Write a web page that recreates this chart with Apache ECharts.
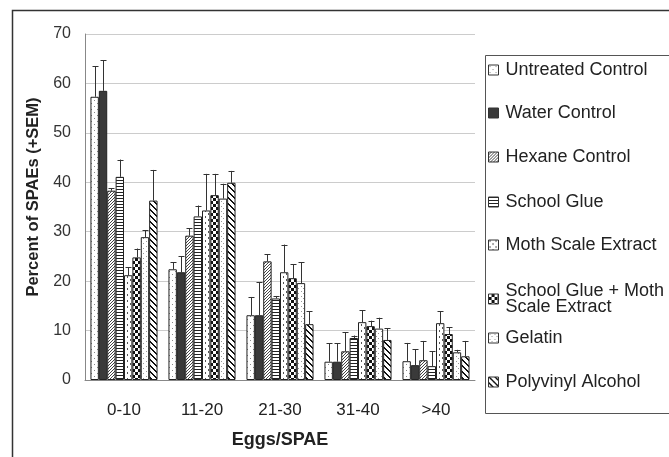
<!DOCTYPE html>
<html><head><meta charset="utf-8">
<script src="https://cdn.jsdelivr.net/npm/echarts@6/dist/echarts.min.js"></script>
<style>html,body{margin:0;padding:0;background:#fff}#c{width:669px;height:457px}</style>
</head><body><div id="c"></div>
<script>
const categories = ['0-10', '11-20', '21-30', '31-40', '>40'];
const seriesNames = ['Untreated Control', 'Water Control', 'Hexane Control', 'School Glue', 'Moth Scale Extract', 'School Glue + Moth Scale Extract', 'Gelatin', 'Polyvinyl Alcohol'];
const untreated = [57.3, 22.4, 13.1, 3.7, 3.8];
const water = [58.5, 21.8, 13.1, 3.7, 3.0];
const hexane = [38.3, 29.2, 24.0, 5.8, 4.0];
const schoolGlue = [41.1, 33.1, 16.5, 8.5, 2.8];
const mothScale = [21.2, 34.3, 21.8, 11.7, 11.5];
const glueMoth = [24.8, 37.4, 20.6, 10.9, 9.3];
const gelatin = [28.9, 36.7, 19.6, 10.4, 5.6];
const pva = [36.3, 39.9, 11.3, 8.1, 4.8];
const untreatedSem = [6.2, 1.4, 3.7, 3.7, 3.7];
const waterSem = [6.2, 3.2, 6.7, 3.7, 3.2];
const hexaneSem = [0.5, 1.5, 1.4, 3.9, 3.9];
const schoolGlueSem = [3.5, 2.2, 0.5, 0.5, 3.0];
const mothScaleSem = [1.6, 7.4, 5.6, 2.4, 2.4];
const glueMothSem = [1.8, 4.3, 2.8, 1.1, 1.4];
const gelatinSem = [1.4, 3.0, 4.2, 2.2, 0.5];
const pvaSem = [6.2, 2.4, 2.6, 2.4, 3.1];
const yTicks = [0, 10, 20, 30, 40, 50, 60, 70];

const values = [untreated, water, hexane, schoolGlue, mothScale, glueMoth, gelatin, pva];
const sems = [untreatedSem, waterSem, hexaneSem, schoolGlueSem, mothScaleSem, glueMothSem, gelatinSem, pvaSem];

function pat(w, h, bg, draw) {
  const c = document.createElement('canvas'); c.width = w; c.height = h;
  const g = c.getContext('2d'); g.fillStyle = bg; g.fillRect(0, 0, w, h);
  draw(g); return { image: c, repeat: 'repeat' };
}
const patterns = [
  pat(6, 6, '#fff', g => { g.fillStyle = '#888'; g.fillRect(1, 1, 1, 1); g.fillRect(4, 4, 1, 1); }),
  '#3a3a3a',
  pat(3, 3, '#fff', g => { g.fillStyle = '#444'; for (let i = 0; i < 3; i++) g.fillRect(i, 2 - i, 1, 1); }),
  pat(4, 3, '#fff', g => { g.fillStyle = '#222'; g.fillRect(0, 0, 4, 1); }),
  pat(6, 6, '#fff', g => { g.fillStyle = '#555'; g.fillRect(1, 0, 1, 2); g.fillRect(4, 3, 1, 2); }),
  pat(6, 6, '#111', g => { g.fillStyle = '#fff'; g.fillRect(0, 0, 3, 3); g.fillRect(3, 3, 3, 3); }),
  pat(5, 5, '#fff', g => { g.fillStyle = '#999'; g.fillRect(1, 1, 1, 1); g.fillRect(3, 3, 1, 1); }),
  pat(6, 6, '#fff', g => { g.fillStyle = '#111'; for (let i = 0; i < 6; i++) { g.fillRect(i, i, 2, 1); g.fillRect((i + 1) % 6, i, 1, 1); } })
];

const FONT = "'Liberation Sans', Arial, Helvetica, sans-serif";
const GAP = 0.14;

const series = seriesNames.map((n, i) => ({
  name: n, type: 'bar', data: values[i], barGap: '0%', barCategoryGap: (GAP * 100) + '%',
  itemStyle: { color: patterns[i], borderColor: '#222', borderWidth: 1 }, z: 2
}));

const errData = [];
sems.forEach((s, si) => s.forEach((e, ci) => errData.push([ci, values[si][ci], e, si])));
series.push({
  type: 'custom', name: 'err', data: errData, z: 5, silent: true,
  renderItem: function (params, api) {
    const ci = api.value(0), v = api.value(1), e = api.value(2), si = api.value(3);
    const base = api.coord([ci, v]);
    const top = api.coord([ci, v + e]);
    const band = api.size([1, 0])[0];
    const gw = band * (1 - GAP);
    const bw = gw / seriesNames.length;
    const x = Math.round(base[0] - gw / 2 + bw * (si + 0.5)) + 0.5;
    const st = { stroke: '#333', lineWidth: 1 };
    return { type: 'group', children: [
      { type: 'line', shape: { x1: x, y1: base[1], x2: x, y2: top[1] }, style: st },
      { type: 'line', shape: { x1: x - 3, y1: Math.round(top[1]) + 0.5, x2: x + 3, y2: Math.round(top[1]) + 0.5 }, style: st }
    ] };
  }
});

const legendTops = [61, 104, 148, 193, 236, 282, 329, 373];
const legends = seriesNames.map((n, i) => ({
  data: [{ name: n, icon: 'rect' }], left: 488, top: legendTops[i], orient: 'vertical', itemWidth: 10, itemHeight: 10, itemGap: 0,
  padding: 0, selectedMode: false,
  formatter: i === 5 ? () => 'School Glue + Moth\nScale Extract' : undefined,
  textStyle: { fontFamily: FONT, fontSize: 18, color: '#222', lineHeight: i === 5 ? 16 : 18, padding: [0, 0, 0, 2] },
  itemStyle: { borderColor: '#333', borderWidth: 1 }
}));

const chart = echarts.init(document.getElementById('c'), null, { renderer: 'canvas' });
chart.setOption({
  animation: false,
  backgroundColor: '#fff',
  graphic: [
    { type: 'rect', shape: { x: 12.5, y: 10.5, width: 700, height: 500 }, style: { fill: null, stroke: '#333', lineWidth: 1.5 }, z: 0 },
    { type: 'rect', shape: { x: 485.5, y: 55.5, width: 250, height: 358 }, style: { fill: null, stroke: '#555', lineWidth: 1 }, z: 0 }
  ],
  grid: { left: 85, right: 194, top: 34, bottom: 77, containLabel: false },
  legend: legends,
  xAxis: {
    type: 'category', data: categories,
    axisLine: { lineStyle: { color: '#888' } }, axisTick: { show: false },
    axisLabel: { fontFamily: FONT, fontSize: 17, color: '#222', margin: 22 },
    name: 'Eggs/SPAE', nameLocation: 'middle', nameGap: 51,
    nameTextStyle: { fontFamily: FONT, fontSize: 18, fontWeight: 'bold', color: '#222' }
  },
  yAxis: {
    type: 'value', min: 0, max: 70, interval: 10,
    axisLine: { show: true, lineStyle: { color: '#888' } }, axisTick: { show: false },
    axisLabel: { fontFamily: FONT, fontSize: 16, color: '#333', margin: 14, formatter: v => yTicks.includes(v) ? String(v) : '' },
    splitLine: { show: true, lineStyle: { color: '#ccc' } },
    name: 'Percent of SPAEs (+SEM)', nameLocation: 'middle', nameGap: 43,
    nameTextStyle: { fontFamily: FONT, fontSize: 16.5, fontWeight: 'bold', color: '#222', padding: [0, 0, 0, 20] }
  },
  series: series
});
</script></body></html>
